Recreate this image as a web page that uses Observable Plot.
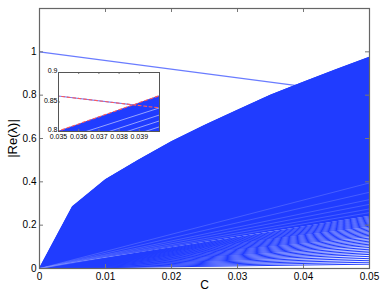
<!DOCTYPE html>
<html><head><meta charset="utf-8">
<script src="https://cdn.jsdelivr.net/npm/d3@7"></script>
<script src="https://cdn.jsdelivr.net/npm/@observablehq/plot@0.6"></script>
<style>
html,body{margin:0;padding:0;background:#fff;}
#wrap{position:relative;width:382px;height:298px;overflow:hidden;}
</style></head><body><div id="wrap"></div>
<script>
// ---- data ----
const C = [0, 0.005, 0.01, 0.015, 0.02, 0.025, 0.03, 0.035, 0.04, 0.045, 0.05];
// upper envelope of the |Re(λ)| bundle
const envelope = [0, 0.285, 0.41, 0.50, 0.585, 0.66, 0.73, 0.80, 0.86, 0.918, 0.975];
// lower limit of the fully saturated part of the bundle
const solidFloor = [0, 0.024, 0.048, 0.072, 0.096, 0.12, 0.144, 0.168, 0.192, 0.216, 0.24];
// the single decreasing branch (values at C = 0 and C = 0.05)
const decayC = [0, 0.05];
const decayV = [1.0, 0.80];
// end values (at C = 0.05) of the straight lower branches starting at the origin
const lineEnds = [0.020, 0.029, 0.038, 0.047, 0.056, 0.065, 0.073, 0.081, 0.089, 0.097,
  0.105, 0.112, 0.119, 0.126, 0.133, 0.140, 0.147, 0.153, 0.159, 0.165, 0.171, 0.177,
  0.183, 0.189, 0.195, 0.200, 0.205, 0.210, 0.215, 0.220, 0.225, 0.230, 0.235, 0.240];
// faint light gaps inside the saturated part (values at C = 0.05, from the origin)
const gapEnds = [0.395, 0.352, 0.318, 0.296, 0.275, 0.258];
// light gaps seen inside the bundle in the inset (value at C=0.035, value at C=0.04)
const streakStart = [0.785, 0.772, 0.762, 0.752];
const streakEnd   = [0.840, 0.828, 0.818, 0.808];

const xTicks = [0, 0.01, 0.02, 0.03, 0.04, 0.05];
const xTickLabels = ["0", "0.01", "0.02", "0.03", "0.04", "0.05"];
const yTicks = [0, 0.2, 0.4, 0.6, 0.8, 1];
const yTickLabels = ["0", "0.2", "0.4", "0.6", "0.8", "1"];
const insetXTicks = [0.035, 0.036, 0.037, 0.038, 0.039];
const insetXTickLabels = ["0.035", "0.036", "0.037", "0.038", "0.039"];
const insetYTicks = [0.8, 0.85, 0.9];
const insetYTickLabels = ["0.8", "0.85", "0.9"];
const xLabel = "C";
const yLabel = "|Re(λ)|";

// ---- tables ----
const BLUE = "#203cff";
const band = C.map((c, i) => ({C: c, lo: solidFloor[i], hi: envelope[i]}));
const env = C.map((c, i) => ({C: c, v: envelope[i]}));
const decay = decayC.map((c, i) => ({C: c, v: decayV[i]}));
const fan = lineEnds.flatMap((v, k) => [{k, C: 0, v: 0}, {k, C: 0.05, v}]);
const gaps = gapEnds.flatMap((v, k) => [{k, C: 0, v: 0}, {k, C: 0.05, v}]);
const streaks = streakStart.flatMap((v, k) => [{k, C: 0.035, v}, {k, C: 0.04, v: streakEnd[k]}]);
const font = "'Liberation Sans', Arial, Helvetica, sans-serif";

const main = Plot.plot({
  width: 382, height: 298,
  marginLeft: 39, marginRight: 13, marginTop: 8, marginBottom: 30,
  x: {domain: [0, 0.05]},
  y: {domain: [0, 1.2]},
  style: {fontFamily: font, fontSize: "10px", background: "white", color: "#000"},
  marks: [
    Plot.line(decay, {x: "C", y: "v", stroke: "#6a7cff", strokeWidth: 1.1}),
    Plot.line(fan, {x: "C", y: "v", z: "k", stroke: BLUE, strokeWidth: 1}),
    Plot.areaY(band, {x: "C", y1: "lo", y2: "hi", fill: BLUE}),
    Plot.line(env, {x: "C", y: "v", stroke: BLUE, strokeWidth: 1}),
    Plot.line(gaps, {x: "C", y: "v", z: "k", stroke: "#8c9cff", strokeWidth: 0.5, strokeOpacity: 0.7}),
    Plot.tickX(xTicks.slice(1, -1), {x: d => d, stroke: "#777", insetTop: 256}),
    Plot.tickX(xTicks.slice(1, -1), {x: d => d, stroke: "#777", insetBottom: 256}),
    Plot.tickY(yTicks.slice(1), {y: d => d, stroke: "#777", insetRight: 326}),
    Plot.tickY(yTicks.slice(1), {y: d => d, stroke: "#777", insetLeft: 326}),
    Plot.axisX(xTicks, {tickSize: 0, tickPadding: 4, label: null, tickFormat: d => xTickLabels[xTicks.indexOf(d)]}),
    Plot.axisY(yTicks, {tickSize: 0, tickPadding: 3, label: null, tickFormat: d => yTickLabels[yTicks.indexOf(d)]}),
    Plot.text([xLabel], {text: d => d, frameAnchor: "bottom", textAnchor: "middle", dy: 20, fontSize: 12}),
    Plot.text([yLabel], {text: d => d, frameAnchor: "left", textAnchor: "middle", dx: -27, rotate: -90, fontSize: 13}),
    Plot.frame({stroke: "#666", strokeWidth: 1.2})
  ]
});

const inset = Plot.plot({
  width: 127, height: 75,
  marginLeft: 22, marginRight: 4, marginTop: 4, marginBottom: 12,
  x: {domain: [0.035, 0.04]},
  y: {domain: [0.8, 0.9]},
  style: {fontFamily: font, fontSize: "7px", background: "transparent", color: "#000"},
  marks: [
    Plot.frame({fill: "white", stroke: null}),
    Plot.line(decay, {x: "C", y: "v", stroke: "#6a7cff", strokeWidth: 1.1, clip: true}),
    Plot.areaY(band, {x: "C", y1: "lo", y2: "hi", fill: BLUE, clip: true}),
    Plot.line(streaks, {x: "C", y: "v", z: "k", stroke: "#c8d0ff", strokeWidth: 0.7, clip: true}),
    Plot.line(decay, {x: "C", y: "v", stroke: "#ff5a5a", strokeWidth: 1.1, strokeDasharray: "3,2.5", clip: true}),
    Plot.line(env, {x: "C", y: "v", stroke: "#ff5a5a", strokeWidth: 1.1, strokeDasharray: "3,2.5", dy: -0.5, clip: true}),
    Plot.tickX(insetXTicks.slice(1), {x: d => d, stroke: "#777", insetTop: 57}),
    Plot.tickX(insetXTicks.slice(1), {x: d => d, stroke: "#777", insetBottom: 57}),
    Plot.tickY([0.85], {y: d => d, stroke: "#777", insetRight: 99}),
    Plot.axisX(insetXTicks, {tickSize: 0, tickPadding: 3, label: null, tickFormat: d => insetXTickLabels[insetXTicks.indexOf(d)]}),
    Plot.axisY(insetYTicks, {tickSize: 0, tickPadding: 1, label: null, dy: -1.5, tickFormat: d => insetYTickLabels[insetYTicks.indexOf(d)]}),
    Plot.frame({stroke: "#555", strokeWidth: 1})
  ]
});
inset.style.position = "absolute";
inset.style.left = "36px";
inset.style.top = "68px";

const wrap = document.getElementById("wrap");
wrap.appendChild(main);
wrap.appendChild(inset);
</script></body></html>
